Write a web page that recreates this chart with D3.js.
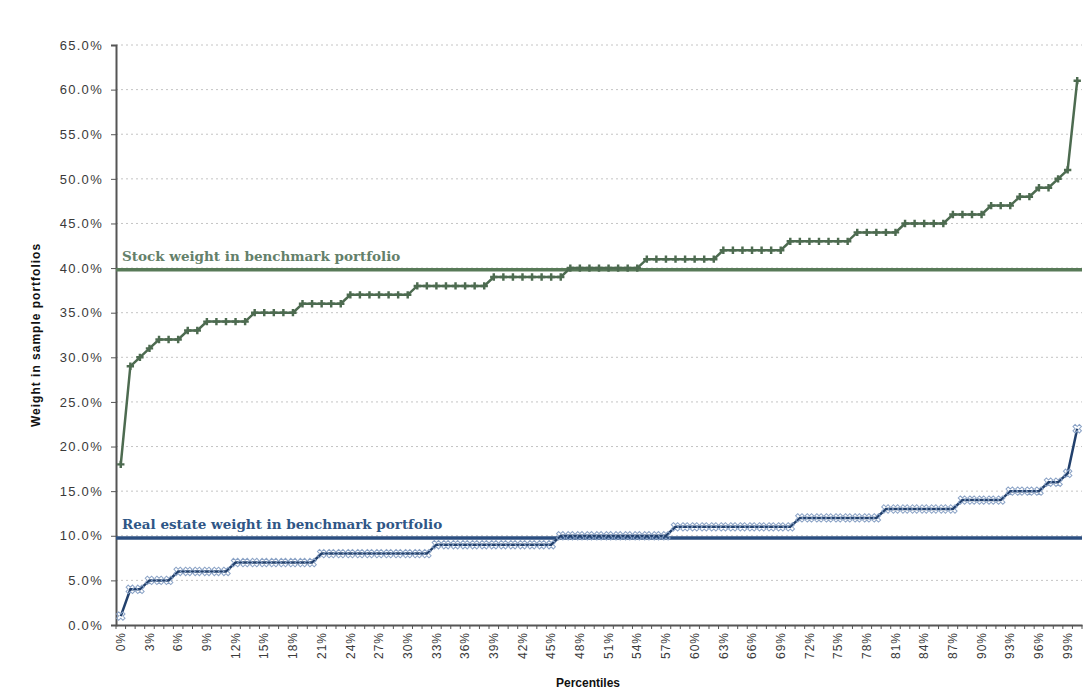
<!DOCTYPE html>
<html>
<head>
<meta charset="utf-8">
<script src="https://cdn.jsdelivr.net/npm/d3@7"></script>
<style>
    body { margin: 0; background: #ffffff; }
    #chart { width: 1085px; height: 698px; }
    text { font-family: "Liberation Sans", Arial, sans-serif; }
</style>
</head>
<body>
<div id="chart"></div>
<script>

// percentiles 0%..100%
const percentiles = d3.range(0, 101);

// weights in %
const stockWeights = [18, 29, 30, 31, 32, 32, 32, 33, 33, 34,
    34, 34, 34, 34, 35, 35, 35, 35, 35, 36,
    36, 36, 36, 36, 37, 37, 37, 37, 37, 37,
    37, 38, 38, 38, 38, 38, 38, 38, 38, 39,
    39, 39, 39, 39, 39, 39, 39, 40, 40, 40,
    40, 40, 40, 40, 40, 41, 41, 41, 41, 41,
    41, 41, 41, 42, 42, 42, 42, 42, 42, 42,
    43, 43, 43, 43, 43, 43, 43, 44, 44, 44,
    44, 44, 45, 45, 45, 45, 45, 46, 46, 46,
    46, 47, 47, 47, 48, 48, 49, 49, 50, 51,
    61];

const realEstateWeights = [1, 4, 4, 5, 5, 5, 6, 6, 6, 6,
    6, 6, 7, 7, 7, 7, 7, 7, 7, 7,
    7, 8, 8, 8, 8, 8, 8, 8, 8, 8,
    8, 8, 8, 9, 9, 9, 9, 9, 9, 9,
    9, 9, 9, 9, 9, 9, 10, 10, 10, 10,
    10, 10, 10, 10, 10, 10, 10, 10, 11, 11,
    11, 11, 11, 11, 11, 11, 11, 11, 11, 11,
    11, 12, 12, 12, 12, 12, 12, 12, 12, 12,
    13, 13, 13, 13, 13, 13, 13, 13, 14, 14,
    14, 14, 14, 15, 15, 15, 15, 16, 16, 17,
    22];

const yTicks = [0, 5, 10, 15, 20, 25, 30, 35, 40, 45, 50, 55, 60, 65];
const benchmarks = [
    {name: "Stock weight in benchmark portfolio", value: 39.8, color: "#587a58", text: "#64806a"},
    {name: "Real estate weight in benchmark portfolio", value: 9.75, color: "#2c4f80", text: "#2f5686"}
];

class PercentileChart {

    constructor(parentElement) {
        this.parentElement = parentElement;
        this.initVis();
    }

    initVis() {
        let vis = this;

        vis.margin = {top: 45, right: 3, bottom: 73, left: 116};
        vis.width = 1085 - vis.margin.left - vis.margin.right;
        vis.height = 698 - vis.margin.top - vis.margin.bottom;

        vis.svg = d3.select("#" + vis.parentElement)
            .append("svg")
            .attr("width", 1085)
            .attr("height", 698)
            .append("g")
            .attr("transform", `translate(${vis.margin.left}, ${vis.margin.top})`);

        vis.x = d3.scaleBand()
            .domain(percentiles)
            .range([0, vis.width]);

        vis.y = d3.scaleLinear()
            .domain([0, 65])
            .range([vis.height, 0]);

        let cx = i => vis.x(i) + vis.x.bandwidth() / 2;

        // dotted gridlines
        vis.svg.append("g")
            .selectAll("line")
            .data(yTicks.filter(d => d > 0))
            .enter()
            .append("line")
            .attr("x1", 0)
            .attr("x2", vis.width)
            .attr("y1", d => vis.y(d))
            .attr("y2", d => vis.y(d))
            .attr("stroke", "#c4c4c4")
            .attr("stroke-width", 1)
            .attr("stroke-dasharray", "2,3");

        // y axis
        let yAxis = vis.svg.append("g")
            .call(d3.axisLeft(vis.y)
                .tickValues(yTicks)
                .tickSize(5)
                .tickPadding(8)
                .tickFormat(d => d.toFixed(1) + "%"));
        yAxis.select(".domain").attr("stroke", "#555").attr("stroke-width", 2);
        yAxis.selectAll(".tick line").attr("stroke", "#555");
        yAxis.selectAll("text")
            .attr("font-size", "13px")
            .attr("letter-spacing", "1.3px")
            .attr("fill", "#3a3a3a");

        // x axis: tick marks on category edges, labels every 3rd
        let xAxis = vis.svg.append("g")
            .attr("transform", `translate(0, ${vis.height})`)
            .call(d3.axisBottom(vis.x)
                .tickValues(percentiles.filter(d => d % 3 === 0 && d < 100))
                .tickSize(0)
                .tickPadding(0)
                .tickFormat(d => d + "%"));
        xAxis.select(".domain").attr("stroke", "#555").attr("stroke-width", 2);
        xAxis.selectAll("text")
            .attr("font-size", "12px")
            .attr("letter-spacing", "1px")
            .attr("fill", "#3a3a3a")
            .attr("text-anchor", "end")
            .attr("transform", "rotate(-90)")
            .attr("dy", "0.35em")
            .attr("x", -7)
            .attr("y", 0);

        xAxis.append("g")
            .selectAll("line")
            .data(percentiles.concat([101]))
            .enter()
            .append("line")
            .attr("x1", d => d === 101 ? vis.width : vis.x(d))
            .attr("x2", d => d === 101 ? vis.width : vis.x(d))
            .attr("y1", 0)
            .attr("y2", 4)
            .attr("stroke", "#555");

        // benchmark lines + labels
        benchmarks.forEach(b => {
            vis.svg.append("line")
                .attr("x1", 0)
                .attr("x2", vis.width)
                .attr("y1", vis.y(b.value))
                .attr("y2", vis.y(b.value))
                .attr("stroke", b.color)
                .attr("stroke-width", 3.5);

            vis.svg.append("text")
                .attr("x", 6)
                .attr("y", vis.y(b.value) - 9)
                .style("font-family", "'DejaVu Serif', Georgia, serif")
                .attr("font-size", "13.5px")
                .attr("font-weight", "bold")
                .attr("fill", b.text)
                .text(b.name);
        });

        let line = d3.line()
            .x((d, i) => cx(i))
            .y(d => vis.y(d));

        // real estate series
        vis.svg.append("path")
            .datum(realEstateWeights)
            .attr("fill", "none")
            .attr("stroke", "#22406c")
            .attr("stroke-width", 2.5)
            .attr("d", line);

        vis.svg.append("g")
            .selectAll("path")
            .data(realEstateWeights)
            .enter()
            .append("path")
            .attr("transform", (d, i) => `translate(${cx(i)}, ${vis.y(d)}) rotate(45)`)
            .attr("d", d3.symbol().type(d3.symbolCross).size(45))
            .attr("fill", "none")
            .attr("stroke", "#8ba3c6")
            .attr("stroke-width", 1);

        // stock series
        vis.svg.append("path")
            .datum(stockWeights)
            .attr("fill", "none")
            .attr("stroke", "#4d6b50")
            .attr("stroke-width", 2.5)
            .attr("d", line);

        vis.svg.append("g")
            .selectAll("path")
            .data(stockWeights)
            .enter()
            .append("path")
            .attr("transform", (d, i) => `translate(${cx(i)}, ${vis.y(d)})`)
            .attr("d", d3.symbol().type(d3.symbolCross).size(30))
            .attr("fill", "#4d6b50");

        // axis titles
        vis.svg.append("text")
            .attr("transform", `translate(${40 - vis.margin.left}, ${335 - vis.margin.top}) rotate(-90)`)
            .attr("text-anchor", "middle")
            .attr("font-size", "12px")
            .attr("font-weight", "bold")
            .attr("letter-spacing", "1px")
            .attr("fill", "#111")
            .text("Weight in sample portfolios");

        vis.svg.append("text")
            .attr("x", 588 - vis.margin.left)
            .attr("y", 687 - vis.margin.top)
            .attr("text-anchor", "middle")
            .attr("font-size", "12px")
            .attr("font-weight", "bold")
            .attr("fill", "#111")
            .text("Percentiles");
    }
}

new PercentileChart("chart");
</script>
</body>
</html>
